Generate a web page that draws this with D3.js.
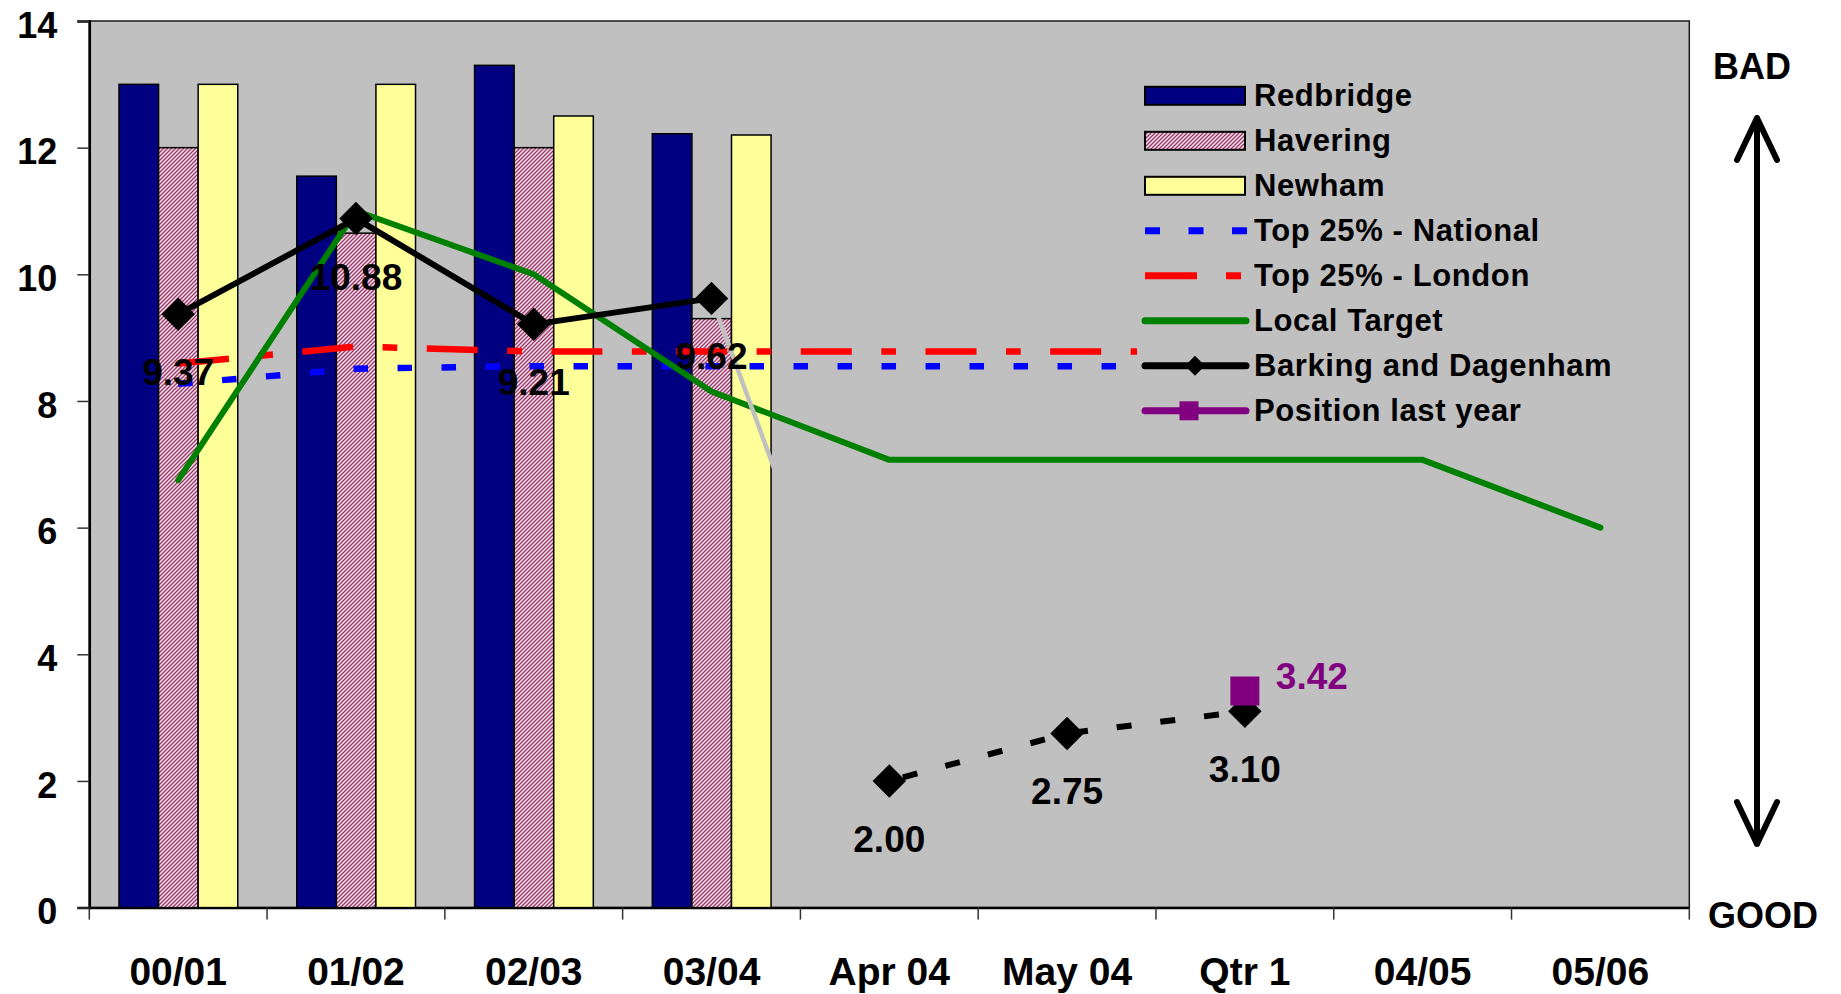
<!DOCTYPE html>
<html>
<head>
<meta charset="utf-8">
<script src="https://cdn.jsdelivr.net/npm/d3@7"></script>
<style>
  body { margin: 0; background: #ffffff; }
  svg text { font-family: "Liberation Sans", Arial, sans-serif; font-weight: bold; }
</style>
</head>
<body>
<script>
// ---------------- data ----------------
const categories = ["00/01", "01/02", "02/03", "03/04", "Apr 04", "May 04", "Qtr 1", "04/05", "05/06"];
const barSeries = ["Redbridge", "Havering", "Newham"];
const redbridge = [13.0, 11.55, 13.3, 12.22];
const havering = [12.0, 10.65, 12.0, 9.3];
const newham = [13.0, 13.0, 12.5, 12.2];
const national = [8.27, 8.51, 8.55, 8.55, 8.55, 8.55, 8.55];
const london = [8.59, 8.86, 8.78, 8.78, 8.78, 8.78, 8.78];
const localTarget = [6.75, 11.0, 10.0, 8.15, 7.07, 7.07, 7.07, 7.07, 6.0];
const barking = [9.37, 10.88, 9.21, 9.62];            // 00/01 .. 03/04
const barkingMonthly = [2.00, 2.75, 3.10];            // Apr 04, May 04, Qtr 1
const positionLastYear = [3.42];                      // Qtr 1
const yTicks = [0, 2, 4, 6, 8, 10, 12, 14];
const legendLabels = ["Redbridge", "Havering", "Newham", "Top 25% - National", "Top 25% - London", "Local Target", "Barking and Dagenham", "Position last year"];

// ---------------- layout ----------------
const W = 1841, H = 994;
const plot = { left: 89.3, top: 21, right: 1689.3, bottom: 907.6 };

const svg = d3.select("body").append("svg").attr("width", W).attr("height", H);

const defs = svg.append("defs");
const pat = defs.append("pattern").attr("id", "hatch")
  .attr("patternUnits", "userSpaceOnUse").attr("width", 4).attr("height", 4);
pat.append("rect").attr("width", 4).attr("height", 4).attr("fill", "#fbe6ef");
pat.append("path").attr("d", "M-1,1 l2,-2 M0,4 l4,-4 M3,5 l2,-2")
  .attr("stroke", "#9c3668").attr("stroke-width", 1.4);

const x = d3.scaleBand().domain(categories).range([plot.left, plot.right]).padding(0);
const bw = x.bandwidth();
const xIn = d3.scaleBand().domain(barSeries).range([bw * 0.167, bw * 0.835]).padding(0);
const y = d3.scaleLinear().domain([0, 14]).range([plot.bottom, plot.top]);
const cx = c => x(c) + bw / 2;

// plot background
svg.append("rect")
  .attr("x", plot.left).attr("y", plot.top)
  .attr("width", plot.right - plot.left).attr("height", plot.bottom - plot.top)
  .attr("fill", "#c0c0c0").attr("stroke", "#1a1a1a").attr("stroke-width", 1.5);

// y axis
const yAxis = svg.append("g").attr("transform", `translate(${plot.left},0)`)
  .call(d3.axisLeft(y).tickValues(yTicks).tickSize(12).tickPadding(20).tickFormat(d3.format("d")));
yAxis.select(".domain").attr("stroke", "#000").attr("stroke-width", 2.5);
yAxis.selectAll(".tick line").attr("stroke", "#333").attr("stroke-width", 1.5);
yAxis.selectAll(".tick text").attr("font-size", 36).attr("fill", "#000").attr("dy", "0.45em")
  .style("font-family", "'Liberation Sans', Arial, sans-serif").style("font-weight", "bold");

// x axis
const xAxis = svg.append("g").attr("transform", `translate(0,${plot.bottom})`)
  .call(d3.axisBottom(x).tickSize(0).tickPadding(50));
xAxis.select(".domain").attr("stroke", "#000").attr("stroke-width", 2.5);
xAxis.selectAll(".tick text").attr("font-size", 39).attr("fill", "#000").attr("dy", "0.71em")
  .style("font-family", "'Liberation Sans', Arial, sans-serif").style("font-weight", "bold");
xAxis.selectAll(".boundary").data(categories.concat(["__end"])).enter().append("line")
  .attr("class", "boundary")
  .attr("x1", (d, i) => i < categories.length ? x(d) : plot.right)
  .attr("x2", (d, i) => i < categories.length ? x(d) : plot.right)
  .attr("y1", 0).attr("y2", 12).attr("stroke", "#333").attr("stroke-width", 1.5);

// bars
const barData = [];
const barValues = { Redbridge: redbridge, Havering: havering, Newham: newham };
const barFill = { Redbridge: "#000080", Havering: "url(#hatch)", Newham: "#ffff99" };
barSeries.forEach(s => barValues[s].forEach((v, i) => barData.push({ s, cat: categories[i], v })));
svg.append("g").selectAll("rect").data(barData).enter().append("rect")
  .attr("x", d => x(d.cat) + xIn(d.s)).attr("width", xIn.bandwidth())
  .attr("y", d => y(d.v)).attr("height", d => y(0) - y(d.v))
  .attr("fill", d => barFill[d.s]).attr("stroke", "#000").attr("stroke-width", 1.5);

const line = d3.line().x(d => cx(d.cat)).y(d => y(d.v));
const toPts = (arr, offset = 0) => arr.map((v, i) => ({ cat: categories[i + offset], v }));

// Top 25% National (blue square dots)
svg.append("path").datum(toPts(national)).attr("d", line)
  .attr("fill", "none").attr("stroke", "#0000ff").attr("stroke-width", 6.5)
  .attr("stroke-dasharray", "14.5,29.5");
// Top 25% London (red dash-dot)
svg.append("path").datum(toPts(london)).attr("d", line)
  .attr("fill", "none").attr("stroke", "#ff0000").attr("stroke-width", 6.5)
  .attr("stroke-dasharray", "51,29.5,14.7,29.5");
// Local target (green)
svg.append("path").datum(toPts(localTarget)).attr("d", line)
  .attr("fill", "none").attr("stroke", "#008000").attr("stroke-width", 6)
  .attr("stroke-linejoin", "round").attr("stroke-linecap", "round");

// Barking: grey connector (same colour as plot area) from 03/04 to Apr 04
const bPts = toPts(barking);
const mPts = toPts(barkingMonthly, 4);
svg.append("path").datum([bPts[bPts.length - 1], mPts[0]]).attr("d", line)
  .attr("fill", "none").attr("stroke", "#c0c0c0").attr("stroke-width", 4.5);
// Barking yearly (solid)
svg.append("path").datum(bPts).attr("d", line)
  .attr("fill", "none").attr("stroke", "#000").attr("stroke-width", 6).attr("stroke-linejoin", "round");
// Barking monthly (dashed)
svg.append("path").datum(mPts).attr("d", line)
  .attr("fill", "none").attr("stroke", "#000").attr("stroke-width", 6)
  .attr("stroke-dasharray", "15,29").attr("stroke-dashoffset", -14);

const diamond = d3.symbol().type(d3.symbolSquare).size(560);
const allB = bPts.concat(mPts);
svg.append("g").selectAll("path").data(allB).enter().append("path")
  .attr("d", diamond)
  .attr("transform", d => `translate(${cx(d.cat)},${y(d.v)}) rotate(45)`)
  .attr("fill", "#000");

// Position last year
const pPts = toPts(positionLastYear, 6);
svg.append("g").selectAll("path").data(pPts).enter().append("path")
  .attr("d", d3.symbol().type(d3.symbolSquare).size(841))
  .attr("transform", d => `translate(${cx(d.cat)},${y(d.v)})`)
  .attr("fill", "#800080");

// data labels
svg.append("g").selectAll("text").data(allB).enter().append("text")
  .attr("x", d => cx(d.cat)).attr("y", d => y(d.v) + 71)
  .attr("text-anchor", "middle").attr("font-size", 37).attr("fill", "#000")
  .text(d => d3.format(".2f")(d.v));
svg.append("g").selectAll("text").data(pPts).enter().append("text")
  .attr("x", d => cx(d.cat) + 31).attr("y", d => y(d.v) - 2)
  .attr("text-anchor", "start").attr("font-size", 37).attr("fill", "#800080")
  .text(d => d3.format(".2f")(d.v));

// legend (opaque, same colour as plot area)
const lg = svg.append("g");
lg.append("rect").attr("x", 1137).attr("y", 68).attr("width", 500).attr("height", 364).attr("fill", "#c0c0c0");
const rowY = i => 95.8 + i * 45;
const sx0 = 1145, sx1 = 1245;
legendLabels.forEach((lab, i) => {
  const yy = rowY(i);
  if (i < 3) {
    lg.append("rect").attr("x", sx0).attr("y", yy - 9).attr("width", sx1 - sx0).attr("height", 18)
      .attr("fill", barFill[barSeries[i]]).attr("stroke", "#000").attr("stroke-width", 2);
  } else if (i === 3) {
    lg.append("line").attr("x1", sx0).attr("x2", sx1 + 2).attr("y1", yy).attr("y2", yy)
      .attr("stroke", "#0000ff").attr("stroke-width", 7).attr("stroke-dasharray", "15,28.5");
  } else if (i === 4) {
    lg.append("line").attr("x1", sx0).attr("x2", sx1 - 3).attr("y1", yy).attr("y2", yy)
      .attr("stroke", "#ff0000").attr("stroke-width", 7).attr("stroke-dasharray", "52,29,15,29");
  } else {
    const col = i === 5 ? "#008000" : i === 6 ? "#000" : "#800080";
    lg.append("line").attr("x1", sx0).attr("x2", sx1 + 1).attr("y1", yy).attr("y2", yy)
      .attr("stroke", col).attr("stroke-width", 7).attr("stroke-linecap", "round");
    if (i === 6) {
      lg.append("path").attr("d", d3.symbol().type(d3.symbolSquare).size(200))
        .attr("transform", `translate(${(sx0 + sx1) / 2},${yy}) rotate(45)`).attr("fill", "#000");
    }
    if (i === 7) {
      lg.append("path").attr("d", d3.symbol().type(d3.symbolSquare).size(361))
        .attr("transform", `translate(${(sx0 + sx1) / 2 - 6},${yy})`).attr("fill", "#800080");
    }
  }
  lg.append("text").attr("x", 1254).attr("y", yy + 10).attr("font-size", 31)
    .attr("letter-spacing", 0.6).attr("fill", "#000").text(lab);
});

// BAD / GOOD arrow
const ax = 1757, aTop = 118, aBot = 844;
svg.append("path")
  .attr("d", `M${ax},${aTop} L${ax},${aBot} M${ax - 20},${aTop + 42} L${ax},${aTop} L${ax + 20},${aTop + 42} M${ax - 20},${aBot - 42} L${ax},${aBot} L${ax + 20},${aBot - 42}`)
  .attr("fill", "none").attr("stroke", "#000").attr("stroke-width", 6)
  .attr("stroke-linecap", "round").attr("stroke-linejoin", "round");
svg.append("text").attr("x", 1713).attr("y", 79).attr("font-size", 36).attr("fill", "#000").text("BAD");
svg.append("text").attr("x", 1708).attr("y", 928).attr("font-size", 36).attr("fill", "#000").text("GOOD");
</script>
</body>
</html>
